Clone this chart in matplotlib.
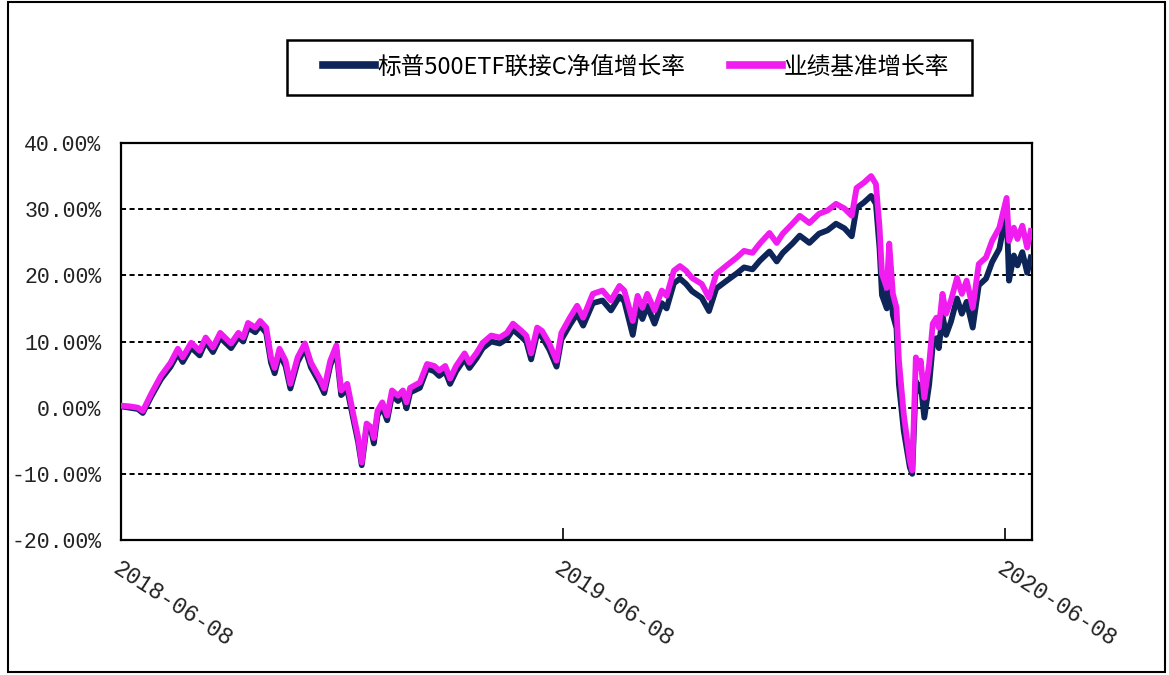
import matplotlib
matplotlib.use("Agg")
import matplotlib.pyplot as plt
import matplotlib.dates as mdates
import pandas as pd
from matplotlib.patches import Rectangle

dates = ["2018-06-08","2018-06-15","2018-06-22","2018-06-26","2018-07-03","2018-07-11","2018-07-19","2018-07-25",
         "2018-07-29","2018-08-05","2018-08-12","2018-08-17","2018-08-23","2018-08-29","2018-09-07","2018-09-13",
         "2018-09-17","2018-09-21","2018-09-27","2018-10-01","2018-10-06","2018-10-10","2018-10-13","2018-10-17",
         "2018-10-22","2018-10-26","2018-11-01","2018-11-07","2018-11-12","2018-11-19","2018-11-23","2018-11-28",
         "2018-12-03","2018-12-07","2018-12-12","2018-12-17","2018-12-21","2018-12-24","2018-12-28","2019-01-01",
         "2019-01-03","2019-01-06","2019-01-10","2019-01-14","2019-01-18","2019-01-23","2019-01-27","2019-01-30",
         "2019-02-02","2019-02-10","2019-02-16","2019-02-22","2019-02-26","2019-03-03","2019-03-07","2019-03-12",
         "2019-03-19","2019-03-23","2019-03-29","2019-04-03","2019-04-10","2019-04-17","2019-04-23","2019-04-28",
         "2019-05-05","2019-05-09","2019-05-13","2019-05-18","2019-05-22","2019-05-28","2019-06-03","2019-06-07",
         "2019-06-14","2019-06-20","2019-06-25","2019-07-03","2019-07-11","2019-07-18","2019-07-25","2019-07-29",
         "2019-08-05","2019-08-09","2019-08-13","2019-08-17","2019-08-23","2019-08-29","2019-09-02","2019-09-08",
         "2019-09-13","2019-09-18","2019-09-23","2019-10-01","2019-10-07","2019-10-13","2019-10-21","2019-10-30",
         "2019-11-05","2019-11-12","2019-11-18","2019-11-26","2019-12-02","2019-12-07","2019-12-15","2019-12-21",
         "2019-12-29","2020-01-06","2020-01-13","2020-01-20","2020-01-27","2020-02-02","2020-02-06","2020-02-12",
         "2020-02-18","2020-02-22","2020-02-25","2020-02-27","2020-03-02","2020-03-04","2020-03-07","2020-03-10",
         "2020-03-12","2020-03-16","2020-03-21","2020-03-23","2020-03-26","2020-03-29","2020-03-30","2020-04-02",
         "2020-04-06","2020-04-09","2020-04-12","2020-04-14","2020-04-17","2020-04-20","2020-04-24","2020-04-29",
         "2020-05-03","2020-05-07","2020-05-12","2020-05-17","2020-05-23","2020-05-28","2020-06-03","2020-06-09",
         "2020-06-11","2020-06-15","2020-06-18","2020-06-22","2020-06-26","2020-06-29"]

benchmark = [0.3,0.2,0.0,-0.5,2.1,4.8,6.8,8.9,7.6,9.8,8.6,10.6,9.1,11.3,9.7,11.3,
             10.6,12.8,12.1,13.1,12.1,7.6,6.0,8.9,7.1,3.6,7.6,9.7,6.8,4.5,2.9,7.1,
             9.4,2.6,3.6,-1.0,-4.5,-8.3,-2.4,-3.0,-4.6,-0.5,0.8,-1.2,2.6,1.8,2.6,0.8,
             3.0,3.8,6.6,6.3,5.6,6.3,4.4,6.3,8.2,6.8,8.3,9.8,10.9,10.6,11.3,12.7,
             11.6,10.9,8.2,12.1,11.6,9.7,7.1,11.3,13.6,15.4,13.6,17.2,17.7,16.2,18.4,17.7,
             13.1,16.9,15.1,17.2,14.7,17.7,16.9,20.7,21.4,20.7,19.6,18.7,16.6,20.2,21.4,22.7,
             23.7,23.4,24.8,26.4,24.9,26.3,27.8,29.0,27.9,29.3,29.8,30.8,30.1,29.0,33.2,34.0,
             35.0,33.8,27.2,20.2,18.1,24.8,17.2,15.1,7.1,-1.0,-8.0,-9.5,7.6,6.0,7.1,1.5,
             6.6,12.7,13.6,12.1,17.2,14.2,16.2,19.6,17.2,19.2,15.1,21.7,22.7,25.2,27.2,31.7,
             25.2,27.2,25.5,27.5,24.2,26.7]

fund = [0.2,0.0,-0.2,-0.8,1.7,4.3,6.2,8.2,6.9,9.1,7.9,10.0,8.4,10.6,9.0,10.7,
        10.0,12.1,11.4,12.4,11.3,6.8,5.2,8.1,6.3,2.9,6.9,9.0,6.1,3.8,2.2,6.4,
        8.7,1.9,2.8,-1.7,-5.2,-8.7,-3.0,-3.6,-5.4,-1.2,0.1,-1.9,1.9,1.0,1.9,-0.1,
        2.3,3.0,5.9,5.5,4.8,5.5,3.6,5.5,7.4,6.0,7.5,9.0,10.0,9.7,10.4,11.8,
        10.7,10.0,7.3,11.2,10.7,8.8,6.2,10.3,12.5,14.2,12.4,15.8,16.2,14.7,16.8,16.1,
        11.0,15.2,13.4,15.4,12.7,15.8,15.0,18.8,19.5,18.7,17.6,16.6,14.6,18.0,19.1,20.3,
        21.2,20.9,22.2,23.6,22.1,23.4,24.8,26.0,24.9,26.3,26.8,27.8,27.1,25.9,30.2,31.0,
        32.0,30.8,24.0,17.0,15.0,21.8,14.0,12.0,3.5,-3.5,-9.0,-10.0,4.0,2.5,3.5,-1.5,
        3.5,9.5,10.5,9.0,14.0,11.0,13.0,16.5,14.2,16.0,12.1,18.5,19.5,22.0,24.0,29.8,
        19.2,23.0,21.5,23.5,20.4,22.7]

series_names = ["标普500ETF联接C净值增长率", "业绩基准增长率"]
x_ticks = ["2018-06-08", "2019-06-08", "2020-06-08"]
y_ticks = [-20, -10, 0, 10, 20, 30, 40]

plt.rcParams['font.family'] = ['Noto Sans CJK SC', 'DejaVu Sans']

d = pd.to_datetime(dates)
fig = plt.figure(figsize=(11.69, 6.75), dpi=100)
ax = fig.add_axes([121/1169, 1-540/675, (1032-121)/1169, (540-143)/675])

ax.plot(d, fund, color='#0E2559', lw=4.2, label=series_names[0], solid_joinstyle='round', zorder=3)
ax.plot(d, benchmark, color='#F01CF0', lw=4.2, label=series_names[1], solid_joinstyle='round', zorder=4)

ax.set_ylim(-20, 40)
ax.set_xlim(pd.Timestamp("2018-06-08"), pd.Timestamp("2020-06-30"))
ax.set_yticks(y_ticks)
ax.set_yticklabels([f"{v:.2f}%" for v in y_ticks], family='Liberation Mono', fontsize=15.5, color='#222222')
ax.tick_params(axis='y', length=0, pad=14)
for v in y_ticks[1:-1]:
    ax.axhline(v, color='black', lw=1.4, ls=(0, (2.6, 1.8)), zorder=2)

xt = pd.to_datetime(x_ticks)
ax.set_xticks(xt)
ax.set_xticklabels(x_ticks, rotation=-33, ha='left', va='top', rotation_mode='anchor',
                   family='Liberation Mono', fontsize=16.5, color='#222222')
ax.tick_params(axis='x', direction='in', length=9, width=1.2, pad=12)
for s in ax.spines.values():
    s.set_linewidth(1.6)
    s.set_color('black')

leg = fig.legend(loc='center', bbox_to_anchor=(636/1169, 1-67/675),
                 ncol=2, fontsize=17, frameon=False,
                 handlelength=2.2, handletextpad=0.1, borderaxespad=0,
                 columnspacing=1.9)
for line in leg.get_lines():
    line.set_linewidth(5.5)

fig.patches.append(Rectangle((287/1169, 1-95/675), (972-287)/1169, 55/675, transform=fig.transFigure,
                             fill=False, edgecolor='black', lw=1.8))
fig.patches.append(Rectangle((8/1169, 3/675), 1157/1169, 670/675, transform=fig.transFigure,
                             fill=False, edgecolor='black', lw=1.5))
fig.savefig("out.png", dpi=100)
